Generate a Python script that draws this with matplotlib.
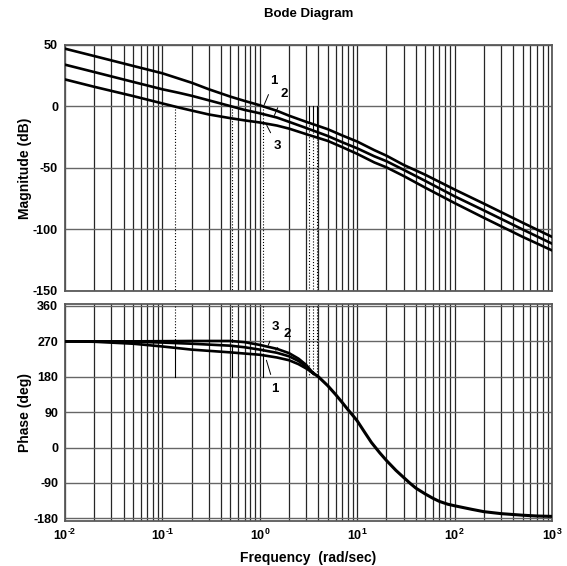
import matplotlib
matplotlib.use("Agg")
import matplotlib.pyplot as plt
from matplotlib.ticker import LogLocator, FixedLocator, NullFormatter

plt.rcParams['font.family'] = ['Liberation Sans', 'DejaVu Sans']
plt.rcParams['font.weight'] = 'bold'
plt.rcParams['axes.unicode_minus'] = False
plt.rcParams['mathtext.fontset'] = 'custom'
plt.rcParams['mathtext.rm'] = 'Liberation Sans:bold'
plt.rcParams['mathtext.it'] = 'Liberation Sans:bold'
plt.rcParams['mathtext.bf'] = 'Liberation Sans:bold'

# magnitude (dB)
w_mag = [0.01, 0.02, 0.05, 0.1, 0.15, 0.2, 0.3, 0.5, 0.7, 1, 1.5, 2, 3, 5, 7,
         10, 15, 20, 30, 50, 100, 200, 500, 1000]
mag1 = [47, 41, 33, 27, 22.5, 19.3, 14, 8, 4.5, 1, -3.5, -7.5, -12.5, -18.5, -23.5,
        -28.5, -35.5, -40, -47.5, -55.5, -67.5, -79, -94.5, -106]
mag2 = [34, 28, 20, 14, 11, 8.7, 5, 0.3, -2.8, -5.5, -9, -12.5, -17.5, -24, -29,
        -34, -40.5, -44.5, -51.5, -60.5, -73, -84.5, -100, -111.5]
mag3 = [22, 16, 8.5, 2.5, -1, -3.3, -6.5, -9.5, -11.3, -13, -15.5, -18, -22.5, -28, -33,
        -38.5, -45.5, -49.5, -56.5, -66, -78.5, -90.5, -106, -117]

# phase (deg): separate at low frequency, one common tail
w_ph_low = [0.01, 0.02, 0.05, 0.1, 0.2, 0.5, 0.7, 1, 1.5, 2, 2.5, 3]
ph1_low = [270, 269, 264, 257, 249, 242, 239, 236, 229, 222, 212, 201]
ph2_low = [270, 270, 269, 267, 264, 259, 255, 249, 241, 232, 220, 206]
ph3_low = [270, 270, 270, 270.5, 271, 271, 268, 261, 251, 240, 226, 210]
w_ph_tail = [3.5, 4, 5, 6, 7, 8, 9, 10, 12, 14, 17, 20, 25, 30, 35, 40, 50, 60,
             70, 85, 100, 150, 200, 300, 500, 700, 1000]
ph_tail = [190, 180, 157, 135, 115, 97, 82, 68, 38, 13, -13, -33, -58, -76, -91, -103,
           -118, -129, -137, -144, -148, -157, -163, -168, -172, -174, -175]

# margin markers: gain crossover (0 dB) and phase crossover frequencies
w_gc = [1.08, 0.52, 0.135]
ph_gc = [235, 259, 269]
w_pc = [3.2, 3.5, 3.85]
mag_pc = [-12.6, -18, -24.2]

mag_ticks = [50, 0, -50, -100, -150]
ph_ticks = [360, 270, 180, 90, 0, -90, -180]
x_ticks = [1e-2, 1e-1, 1e0, 1e1, 1e2, 1e3]
x_labels = [r'$10^{\text{-2}}$', r'$10^{\text{-1}}$', '$10^{0}$', '$10^{1}$', '$10^{2}$', '$10^{3}$']

fig = plt.figure(figsize=(5.67, 5.66), dpi=100)
ax1 = fig.add_axes([0.1146, 0.4859, 0.8589, 0.4346])
ax2 = fig.add_axes([0.1146, 0.0800, 0.8589, 0.3829])

for ax in (ax1, ax2):
    ax.set_xscale('log')
    ax.set_xlim(1e-2, 1e3)
    ax.xaxis.set_major_locator(FixedLocator(x_ticks))
    ax.xaxis.set_minor_locator(LogLocator(base=10, subs=range(2, 10)))
    ax.xaxis.set_minor_formatter(NullFormatter())
    ax.grid(which='both', axis='x', color='0.15', lw=0.9, ls='-')
    ax.grid(which='major', axis='y', color='0.4', lw=1.0, ls='-')
    ax.tick_params(which='both', length=0, labelsize=9, pad=5)
    for s in ax.spines.values():
        s.set_color('0.35')
        s.set_linewidth(1.3)

# magnitude
ax1.set_ylim(-150, 50)
ax1.set_yticks(mag_ticks)
ax1.set_xticklabels([])
for m in (mag1, mag2, mag3):
    ax1.plot(w_mag, m, color='black', lw=1.9, zorder=3)
for w in w_gc:
    ax1.plot([w, w], [0, -150], color='black', lw=0.8, ls=':', zorder=2)
for w, m in zip(w_pc, mag_pc):
    ax1.plot([w, w], [0, m], color='black', lw=0.8, zorder=2)
    ax1.plot([w, w], [m, -150], color='black', lw=0.8, ls=':', zorder=2)
ax1.set_ylabel('Magnitude (dB)', fontsize=10, fontweight='bold', labelpad=1)
ax1.set_title('Bode Diagram', fontsize=9.5, fontweight='bold', pad=20)

lk = dict(fontsize=9.5, fontweight='bold', ha='center', va='center',
          arrowprops=dict(arrowstyle='-', color='black', lw=0.7, shrinkA=4, shrinkB=0))
ax1.annotate('1', xy=(1.11, 1.4), xytext=(1.41, 21), **lk)
ax1.annotate('2', xy=(1.41, -7.3), xytext=(1.77, 10.3), **lk)
ax1.annotate('3', xy=(1.18, -15.4), xytext=(1.53, -32.5), **lk)

# phase
ax2.set_ylim(-186, 365)
ax2.set_yticks(ph_ticks)
ax2.set_xticklabels(x_labels)
for p in (ph1_low, ph2_low, ph3_low):
    ax2.plot(w_ph_low + w_ph_tail[:1], p + ph_tail[:1], color='black', lw=1.9, zorder=3)
ax2.plot(w_ph_tail, ph_tail, color='black', lw=2.2, zorder=3)
for w, p in zip(w_gc, ph_gc):
    ax2.plot([w, w], [360, p], color='black', lw=0.8, ls=':', zorder=2)
    ax2.plot([w, w], [p, 180], color='black', lw=0.8, zorder=2)
for w in w_pc:
    ax2.plot([w, w], [360, 180], color='black', lw=0.8, ls=':', zorder=2)
ax2.set_ylabel('Phase (deg)', fontsize=10, fontweight='bold', labelpad=1)
ax2.set_xlabel('Frequency  (rad/sec)', fontsize=10, fontweight='bold', labelpad=6)

ax2.annotate('3', xy=(1.22, 260), xytext=(1.46, 306), **lk)
ax2.annotate('2', xy=(1.46, 247), xytext=(1.90, 288), **lk)
ax2.annotate('1', xy=(1.17, 222), xytext=(1.43, 150), **lk)

fig.savefig('out.png', dpi=100)
